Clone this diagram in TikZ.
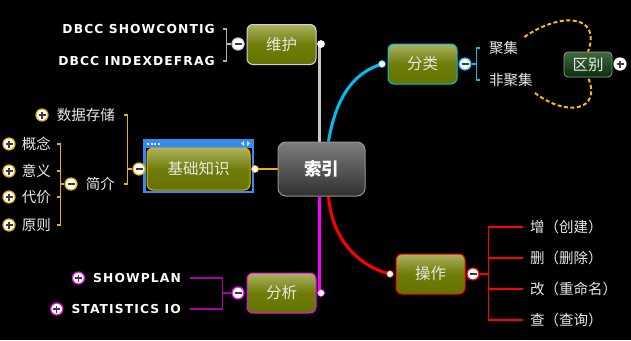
\documentclass[tikz,border=0pt]{standalone}
\usepackage{fontspec}
\newfontfamily\cjk{Noto Sans CJK SC}
\newfontfamily\dbfont[LetterSpace=9]{DejaVu Sans Bold}
\usetikzlibrary{positioning, backgrounds}

\definecolor{olivetop}{RGB}{172,178,96}
\definecolor{olivemid}{RGB}{112,124,8}
\definecolor{olivebot}{RGB}{100,116,0}
\definecolor{idxtop}{RGB}{125,125,125}
\definecolor{idxbot}{RGB}{48,48,48}
\definecolor{idxborder}{RGB}{150,150,150}
\definecolor{qbtop}{RGB}{62,104,62}
\definecolor{qbbot}{RGB}{8,48,8}
\definecolor{cyanline}{RGB}{0,190,235}
\definecolor{magline}{RGB}{255,0,255}
\definecolor{magbr}{RGB}{170,0,170}
\definecolor{redline}{RGB}{255,0,0}
\definecolor{yel}{RGB}{232,178,0}
\definecolor{dashyel}{RGB}{245,190,0}
\definecolor{whline}{RGB}{200,200,200}
\definecolor{selblue}{RGB}{52,140,240}
\definecolor{knobgray}{RGB}{60,60,60}
\definecolor{leafgray}{RGB}{232,232,232}

\begin{document}
\begin{tikzpicture}[x=1pt, y=-1pt,
  topic/.style={draw=#1, line width=1pt, rounded corners=6pt, minimum width=69pt,
    minimum height=40pt, inner sep=0pt, text=leafgray,
    font=\cjk\fontsize{15.5}{17}\selectfont,
    top color=olivetop, bottom color=olivebot, middle color=olivemid},
  knob/.style={circle, fill=white, draw=#1, line width=1.2pt, minimum size=12pt, inner sep=0pt},
  knobminus/.style={knob=#1, path picture={
    \draw[line width=1.8pt, knobgray] ([xshift=-3.5pt]path picture bounding box.center)
      -- ([xshift=3.5pt]path picture bounding box.center);}},
  knobplus/.style={knob=#1, path picture={
    \draw[line width=1.5pt, knobgray] ([xshift=-3.5pt]path picture bounding box.center)
      -- ([xshift=3.5pt]path picture bounding box.center);
    \draw[line width=1.5pt, knobgray] ([yshift=-3.5pt]path picture bounding box.center)
      -- ([yshift=3.5pt]path picture bounding box.center);}},
  dot/.style={circle, fill=white, draw=#1, line width=0.6pt, minimum size=7pt, inner sep=0pt},
  leaf/.style={text=leafgray, font=\cjk\fontsize{14.5}{16}\selectfont, inner sep=0pt},
  sqlleaf/.style={text=white, font=\dbfont\fontsize{12.3}{14}\selectfont, inner sep=0pt},
  brk/.style={line width=1.2pt, #1},
  dashline/.style={line width=2pt, dashyel, dash pattern=on 4pt off 2.5pt}
]

% Background
\useasboundingbox (0,0) rectangle (631,340);

% Central topic
\node[draw=idxborder, line width=1pt, rounded corners=8pt, minimum width=87pt,
  minimum height=54pt, top color=idxtop, bottom color=idxbot, text=white,
  font=\cjk\bfseries\fontsize{17.5}{19}\selectfont] (idx) at (321.5,169) {索引};

% Main topics
\node[topic=whline!80!white] (wh) at (281.5,44.5) {维护};
\node[topic=cyanline] (fl) at (422.5,64) {分类};
\node[topic=magline] (fx) at (281.5,293) {分析};
\node[topic=redline] (cz) at (430.5,274) {操作};

% Selection frame round 基础知识
\draw[selblue, line width=2.5pt] (144.25,140.25) rectangle (252.75,191.75);
\fill[selblue] (143,139) rectangle (254,148);
\foreach \i in {0,...,3}
  \fill[white!85!selblue] (147+\i*3.5,142.5) rectangle ++(2,2);
\fill[white!80!selblue] (241,143.5) -- (244,141) -- (244,146) -- cycle;
\fill[white!80!selblue] (250,143.5) -- (247,141) -- (247,146) -- cycle;
\node[topic=yel, minimum width=103pt, minimum height=42pt] (jc) at (198.5,169) {基础知识};

% 区别
\node[draw=idxborder, line width=0.8pt, rounded corners=4pt, minimum width=48pt,
  minimum height=25pt, inner sep=0pt, top color=qbtop, bottom color=qbbot,
  text=leafgray, font=\cjk\fontsize{15.5}{17}\selectfont] (qb) at (588,64.5) {区别};
\node[knobplus=white] (qbk) at (620,64) {};

% Dots
\node[dot=white] (whdot) at (321,44) {};
\node[dot=cyanline] (fldot) at (382,64) {};
\node[dot=yel] (jcdot) at (255,169) {};
\node[dot=magline] (fxdot) at (321,293) {};
\node[dot=redline] (czdot) at (390,274) {};

% Knobs
\node[knobminus=whline!80!white] (whk) at (238,44) {};
\node[knobminus=cyanline] (flk) at (465,64) {};
\node[knobminus=yel] (jck) at (139,169) {};
\node[knobminus=magline] (fxk) at (238,293) {};
\node[knobminus=redline] (czk) at (473,274) {};

% Leaves of 维护
\node[sqlleaf, anchor=east] (dbcc1) at (215,29) {DBCC SHOWCONTIG};
\node[sqlleaf, anchor=east] (dbcc2) at (215,61) {DBCC INDEXDEFRAG};

% Leaves of 分类
\node[leaf, anchor=west] (jj) at (489,48) {聚集};
\node[leaf, anchor=west] (fjj) at (489,80) {非聚集};

% Leaves of 基础知识
\node[leaf, anchor=east] (sjcc) at (115,115) {数据存储};
\node[knobplus=yel, left=8pt of sjcc] (sjcck) {};
\node[leaf, anchor=east] (jianjie) at (115,184) {简介};
\node[knobminus=yel] (jjk) at (71,184) {};
\node[leaf, anchor=east] (gn) at (51,144) {概念};
\node[leaf, anchor=east] (yy) at (51,171) {意义};
\node[leaf, anchor=east] (dj) at (51,197) {代价};
\node[leaf, anchor=east] (yz) at (51,225) {原则};
\foreach \n in {gn, yy, dj, yz}
  \node[knobplus=yel, left=6pt of \n] (\n k) {};

% Leaves of 分析
\node[sqlleaf, anchor=east] (sp) at (181,278) {SHOWPLAN};
\node[sqlleaf, anchor=east] (sio) at (181,309) {STATISTICS IO};
\node[knobplus=magline, left=8pt of sp] (spk) {};
\node[knobplus=magline, left=8pt of sio] (siok) {};

% Leaves of 操作
\node[leaf, anchor=west] (zeng) at (530,227) {增（创建）};
\node[leaf, anchor=west] (shan) at (530,258) {删（删除）};
\node[leaf, anchor=west] (gai) at (530,289) {改（重命名）};
\node[leaf, anchor=west] (cha) at (530,320) {查（查询）};

\begin{pgfonlayer}{background}
\fill[black] (0,0) rectangle (631,340);

% Connectors to the central topic
\draw[line width=3pt, whline] ([xshift=-2pt]whdot.center) -- ([xshift=-2pt]whdot.center |- idx.north);
\draw[line width=3pt, cyanline] ([xshift=7pt]idx.north) .. controls +(8,-48) and +(-26,8) .. (fldot.center);
\draw[line width=1.5pt, yel] (jcdot.center) -- (idx.west);
\draw[line width=3pt, magline] ([xshift=-2pt]fxdot.center) -- ([xshift=-2pt]fxdot.center |- idx.south);
\draw[line width=3pt, redline] ([xshift=7pt]idx.south) .. controls +(4,48) and +(-26,-6) .. (czdot.center);

% Brackets
\draw[brk=whline!70!gray] (whk.west) -- ++(-5,0) coordinate (whb);
\draw[brk=whline!70!gray] ([xshift=8pt]dbcc1.east) -| (whb) |- ([xshift=8pt]dbcc2.east);

\draw[brk=cyanline] (flk.east) -- ++(5,0) coordinate (flb);
\draw[brk=cyanline] ([xshift=-9pt]jj.west) -| (flb) |- ([xshift=-9pt]fjj.west);

\draw[brk=yel] (jck.west) -- ++(-5,0) coordinate (jcb);
\draw[brk=yel] ([xshift=9pt]sjcc.east) -| (jcb) |- ([xshift=9pt]jianjie.east);
\draw[brk=yel] (jjk.west) -- ++(-4,0) coordinate (jjb);
\draw[brk=yel] ([xshift=6pt]gn.east) -| (jjb) |- ([xshift=6pt]yz.east);
\draw[brk=yel] ([xshift=6pt]yy.east) -- (jjb |- yy);
\draw[brk=yel] ([xshift=6pt]dj.east) -- (jjb |- dj);

\draw[brk=magbr] (fxk.west) -- ++(-9,0) coordinate (fxb);
\draw[brk=magbr] ([xshift=9pt]sp.east) -| (fxb) |- ([xshift=9pt]sio.east);

\draw[brk=redline] (czk.east) -- ++(9,0) coordinate (czb);
\draw[brk=redline] ([xshift=-7pt]zeng.west) -| (czb) |- ([xshift=-7pt]cha.west);
\draw[brk=redline] ([xshift=-7pt]shan.west) -- (czb |- shan);
\draw[brk=redline] ([xshift=-7pt]gai.west) -- (czb |- gai);

% Relation 聚集 / 非聚集 -> 区别
\draw[dashline] ([shift={(6,-11)}]jj.east) .. controls (560,12) and (602,14) .. (qb.north);
\draw[dashline] ([shift={(2,13)}]fjj.east) .. controls (568,118) and (602,110) .. (qb.south);
\end{pgfonlayer}

\end{tikzpicture}
\end{document}
